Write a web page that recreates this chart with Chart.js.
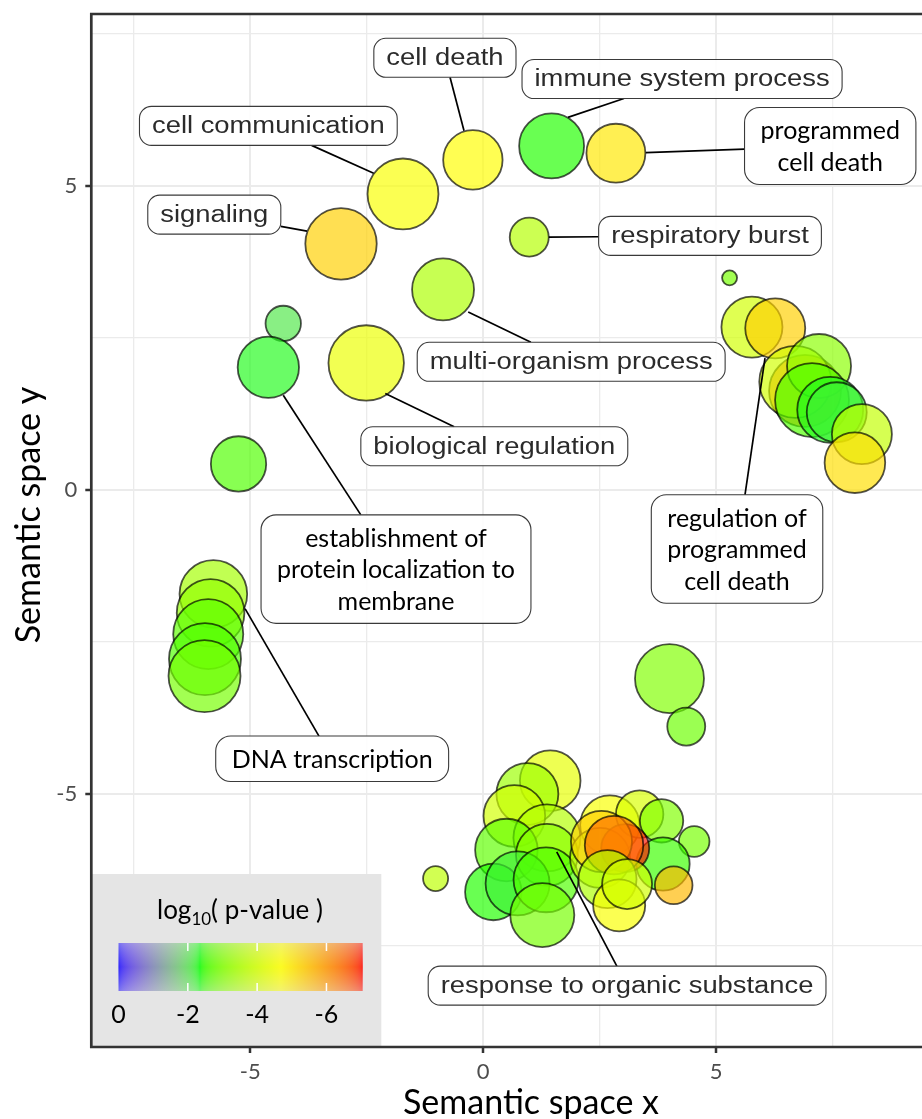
<!DOCTYPE html>
<html>
<head>
<meta charset="utf-8">
<script src="https://cdn.jsdelivr.net/npm/chart.js@4.4.1/dist/chart.umd.min.js"></script>
<style>
  html, body { margin: 0; padding: 0; background: #fff; }
  #wrap { width: 922px; height: 1119px; }
</style>
</head>
<body>
<div id="wrap"><canvas id="chart" width="922" height="1119"></canvas></div>
<script>
// REVIGO semantic space: one entry per GO term
const termX = [
  -0.22, -1.72, -3.05, -0.86, 0.99, 1.47, 2.85, 5.29,
  -4.29, -4.61, -2.51, -5.25,
  -5.79, -5.85, -5.90, -5.97, -5.98,
  5.77, 6.27, 6.91, 6.70, 7.21, 7.06, 7.45, 7.59, 8.13, 7.98,
  4.00, 4.36, -1.02,
  1.44, 0.95, 0.67, 1.37, 0.50, 1.37, 0.22, 0.74, 1.35, 1.27, 2.72, 3.36,
  3.83, 4.53, 2.51, 3.86, 3.05, 2.54, 2.81, 2.67, 2.92, 3.09, 4.09
];
const termY = [
  5.43, 4.87, 4.05, 3.30, 4.16, 5.66, 5.54, 3.49,
  2.74, 2.02, 2.09, 0.43,
  -1.71, -2.02, -2.37, -2.78, -3.06,
  2.68, 2.66, 1.63, 1.78, 2.04, 1.48, 1.32, 1.28, 0.92, 0.45,
  -3.10, -3.89, -6.39,
  -4.78, -5.00, -5.36, -5.72, -5.92, -6.00, -6.61, -6.47, -6.41, -6.99, -5.51, -5.33,
  -5.44, -5.78, -6.05, -6.15, -5.89, -5.78, -5.84, -6.40, -6.83, -6.48, -6.50
];
const termSize = [
  3.96, 4.73, 4.76, 4.13, 2.60, 4.33, 3.93, 1.00,
  2.36, 4.09, 5.03, 3.69,
  4.51, 4.51, 4.67, 4.80, 4.80,
  4.07, 4.00, 4.80, 4.80, 4.27, 4.93, 4.40, 4.00, 4.00, 4.04,
  4.60, 2.53, 1.67,
  4.04, 4.13, 4.11, 4.47, 4.17, 4.13, 3.77, 4.27, 4.33, 4.27, 3.96, 3.16,
  2.89, 2.04, 4.00, 3.56, 3.20, 4.07, 3.90, 3.87, 3.47, 3.33, 2.51
];
const termLogP = [
  -4.7, -4.6, -5.3, -3.5, -3.6, -2.4, -5.0, -2.9,
  -2.1, -2.3, -4.4, -2.6,
  -3.4, -3.2, -2.7, -2.6, -2.9,
  -4.0, -5.3, -6.3, -4.0, -3.1, -2.6, -2.3, -2.2, -3.8, -5.1,
  -3.0, -2.8, -3.7,
  -4.3, -3.3, -4.0, -3.6, -2.7, -3.1, -2.4, -2.2, -2.6, -2.9, -4.6, -4.1,
  -3.0, -2.9, -3.8, -2.5, -7.0, -5.3, -6.4, -3.5, -4.6, -4.0, -5.6
];

const xTicks = [-7.5, -5, -2.5, 0, 2.5, 5, 7.5];
const yTicks = [-7.5, -5, -2.5, 0, 2.5, 5, 7.5];

const labelLines = [
  ['cell death'],
  ['immune system process'],
  ['programmed', 'cell death'],
  ['cell communication'],
  ['signaling'],
  ['respiratory burst'],
  ['multi-organism process'],
  ['biological regulation'],
  ['establishment of', 'protein localization to', 'membrane'],
  ['regulation of', 'programmed', 'cell death'],
  ['DNA transcription'],
  ['response to organic substance']
];
// label box centre and the point its leader line goes to, in data units
const labelLayout = [
  { bx: -0.82, by: 7.11, px: -0.41, py: 5.91, lato: false },
  { bx: 4.27, by: 6.76, px: 1.82, py: 6.13, lato: false },
  { bx: 7.45, by: 5.66, px: 3.49, py: 5.55, lato: true },
  { bx: -4.61, by: 5.99, px: -2.35, py: 5.21, lato: false },
  { bx: -5.77, by: 4.53, px: -3.78, py: 4.26, lato: false },
  { bx: 4.87, by: 4.18, px: 1.41, py: 4.16, lato: false },
  { bx: 1.89, by: 2.11, px: -0.32, py: 2.93, lato: false },
  { bx: 0.24, by: 0.72, px: -2.10, py: 1.59, lato: false },
  { bx: -1.87, by: -1.30, px: -4.29, py: 1.56, lato: true },
  { bx: 5.45, by: -0.97, px: 6.05, py: 2.17, lato: true },
  { bx: -3.24, by: -4.42, px: -5.11, py: -1.95, lato: true },
  { bx: 3.09, by: -8.15, px: 1.58, py: -5.95, lato: false }
];

const legendTicks = [0, -2, -4, -6];
const paletteColours = ['#0000FF', '#00FF00', '#FFFF00', '#FF0000'];
const pLimits = [-7.04, 0];

// ---- colour scale, interpolated in Lab like ggplot ----
function hexToRgb(h) {
  return [1, 3, 5].map((i) => parseInt(h.slice(i, i + 2), 16));
}
function toLab(rgb) {
  const lin = rgb.map((c) => {
    c /= 255;
    return c <= 0.04045 ? c / 12.92 : Math.pow((c + 0.055) / 1.055, 2.4);
  });
  const X = (0.4124 * lin[0] + 0.3576 * lin[1] + 0.1805 * lin[2]) / 0.95047;
  const Y = 0.2126 * lin[0] + 0.7152 * lin[1] + 0.0722 * lin[2];
  const Z = (0.0193 * lin[0] + 0.1192 * lin[1] + 0.9505 * lin[2]) / 1.08883;
  const f = (t) => (t > 0.008856 ? Math.cbrt(t) : 7.787 * t + 16 / 116);
  return [116 * f(Y) - 16, 500 * (f(X) - f(Y)), 200 * (f(Y) - f(Z))];
}
function fromLab(lab) {
  const fy = (lab[0] + 16) / 116;
  const fx = fy + lab[1] / 500;
  const fz = fy - lab[2] / 200;
  const inv = (t) => (t * t * t > 0.008856 ? t * t * t : (t - 16 / 116) / 7.787);
  const X = inv(fx) * 0.95047, Y = inv(fy), Z = inv(fz) * 1.08883;
  const lin = [
    3.2406 * X - 1.5372 * Y - 0.4986 * Z,
    -0.9689 * X + 1.8758 * Y + 0.0415 * Z,
    0.0557 * X - 0.2040 * Y + 1.0570 * Z
  ];
  return lin.map((c) => {
    c = c <= 0.0031308 ? 12.92 * c : 1.055 * Math.pow(c, 1 / 2.4) - 0.055;
    return Math.round(Math.max(0, Math.min(1, c)) * 255);
  });
}
const paletteLab = paletteColours.map((c) => toLab(hexToRgb(c)));
function colourFor(v) {
  const t = Math.max(0, Math.min(1, (pLimits[1] - v) / (pLimits[1] - pLimits[0])));
  const seg = t * (paletteLab.length - 1);
  const i = Math.min(paletteLab.length - 2, Math.floor(seg));
  const f = seg - i;
  const a = paletteLab[i], b = paletteLab[i + 1];
  return fromLab([0, 1, 2].map((k) => a[k] + (b[k] - a[k]) * f));
}
const rgba = (c, a) => `rgba(${c[0]},${c[1]},${c[2]},${a})`;

const sizeToRadius = (s) => s * 7.5;

// ---- drawing helpers ----
function roundRect(ctx, x, y, w, h, r) {
  ctx.beginPath();
  ctx.moveTo(x + r, y);
  ctx.arcTo(x + w, y, x + w, y + h, r);
  ctx.arcTo(x + w, y + h, x, y + h, r);
  ctx.arcTo(x, y + h, x, y, r);
  ctx.arcTo(x, y, x + w, y, r);
  ctx.closePath();
}

function drawLabels(chart) {
  const ctx = chart.ctx;
  const xs = chart.scales.x, ys = chart.scales.y;
  labelLines.forEach((lines, i) => {
    const a = labelLayout[i];
    const cx = xs.getPixelForValue(a.bx), cy = ys.getPixelForValue(a.by);
    const px = xs.getPixelForValue(a.px), py = ys.getPixelForValue(a.py);
    ctx.save();
    ctx.font = a.lato ? '25px Lato' : '23px "Liberation Sans"';
    const stretch = a.lato ? 1 : 1.19;
    const tw = Math.max(...lines.map((l) => ctx.measureText(l).width)) * stretch;
    const lineH = a.lato ? 31.5 : 39;
    const w = tw + (a.lato ? 32 : 25);
    const h = a.lato ? lines.length * 31.5 + 14 : 39;

    // leader line from the point to the box edge
    const dx = px - cx, dy = py - cy;
    const tX = dx !== 0 ? Math.abs((w / 2) / dx) : Infinity;
    const tY = dy !== 0 ? Math.abs((h / 2) / dy) : Infinity;
    const t = Math.min(tX, tY);
    if (t < 1) {
      ctx.beginPath();
      ctx.moveTo(px, py);
      ctx.lineTo(cx + dx * t, cy + dy * t);
      ctx.strokeStyle = '#000';
      ctx.lineWidth = 1.7;
      ctx.stroke();
    }

    roundRect(ctx, cx - w / 2, cy - h / 2, w, h, a.lato ? 15 : 12);
    ctx.fillStyle = 'rgba(255,255,255,0.88)';
    ctx.fill();
    ctx.strokeStyle = '#3a3a3a';
    ctx.lineWidth = 1.1;
    ctx.stroke();

    ctx.fillStyle = a.lato ? '#000' : '#2b2b2b';
    ctx.textAlign = 'center';
    ctx.textBaseline = 'middle';
    lines.forEach((l, k) => {
      const ty = cy + (k - (lines.length - 1) / 2) * lineH + 1;
      ctx.save();
      ctx.translate(cx, ty);
      ctx.scale(stretch, 1);
      ctx.fillText(l, 0, 0);
      ctx.restore();
    });
    ctx.restore();
  });
}

function drawLegend(chart) {
  const ctx = chart.ctx;
  const area = chart.chartArea;
  ctx.save();
  ctx.fillStyle = '#e5e5e5';
  ctx.fillRect(area.left, 874, 290, area.bottom - 874);

  // title: log10( p-value )
  ctx.fillStyle = '#000';
  ctx.textBaseline = 'alphabetic';
  ctx.textAlign = 'left';
  const big = '26px Lato', small = '17px Lato';
  ctx.font = big;
  const w1 = ctx.measureText('log').width;
  const w3 = ctx.measureText('( p-value )').width;
  ctx.font = small;
  const w2 = ctx.measureText('10').width;
  let x = 240 - (w1 + w2 + w3) / 2;
  ctx.font = big;
  ctx.fillText('log', x, 919);
  x += w1;
  ctx.font = small;
  ctx.fillText('10', x, 925);
  x += w2;
  ctx.font = big;
  ctx.fillText('( p-value )', x, 919);

  // colour bar
  const x0 = 118.5, x1 = 362.5, y0 = 943, y1 = 991;
  const bw = x1 - x0;
  for (let i = 0; i < bw; i += 1) {
    const v = pLimits[0] * ((i + 0.5) / bw);
    const c = colourFor(v);
    const g = ctx.createLinearGradient(0, y0, 0, y1);
    g.addColorStop(0, rgba(c, 0.5));
    g.addColorStop(0.5, rgba(c, 1));
    g.addColorStop(1, rgba(c, 0.5));
    ctx.fillStyle = g;
    ctx.fillRect(x0 + i, y0, 1.2, y1 - y0);
  }
  ctx.strokeStyle = '#fff';
  ctx.lineWidth = 1.5;
  ctx.font = '25px Lato';
  ctx.textAlign = 'center';
  ctx.textBaseline = 'middle';
  legendTicks.forEach((t) => {
    const tx = x0 + (t / pLimits[0]) * bw;
    if (t !== 0) {
      ctx.beginPath();
      ctx.moveTo(tx, y0); ctx.lineTo(tx, y0 + 8);
      ctx.moveTo(tx, y1 - 8); ctx.lineTo(tx, y1);
      ctx.stroke();
    }
    ctx.fillStyle = '#000';
    ctx.fillText(String(t), tx, 1015);
  });
  ctx.restore();
}

const revigoPlugin = {
  id: 'revigo',
  afterDatasetsDraw(chart) {
    drawLabels(chart);
    drawLegend(chart);
    const ctx = chart.ctx;
    const a = chart.chartArea;
    ctx.save();
    ctx.strokeStyle = '#333';
    ctx.lineWidth = 2.7;
    ctx.beginPath();
    ctx.moveTo(a.right + 5, a.top);
    ctx.lineTo(a.left, a.top);
    ctx.lineTo(a.left, a.bottom);
    ctx.lineTo(a.right + 5, a.bottom);
    ctx.stroke();
    ctx.restore();
  },
  afterDraw(chart) {
    const ctx = chart.ctx;
    ctx.save();
    ctx.fillStyle = '#000';
    ctx.font = '34px Lato';
    ctx.textAlign = 'center';
    ctx.textBaseline = 'alphabetic';
    ctx.fillText('Semantic space x', 531, 1114);
    ctx.translate(40, 515);
    ctx.rotate(-Math.PI / 2);
    ctx.fillText('Semantic space y', 0, 0);
    ctx.restore();
  }
};

const points = termX.map((x, i) => ({ x, y: termY[i], r: sizeToRadius(termSize[i]) }));

Chart.defaults.font.family = 'Lato';

const isMajor = (v) => v % 5 === 0;

// drop the extra room Chart.js keeps for edge tick labels
function noEdgePadding(scale) {
  scale.paddingLeft = 0;
  scale.paddingRight = 0;
  scale.paddingTop = 0;
  scale.paddingBottom = 0;
}

new Chart(document.getElementById('chart'), {
  type: 'bubble',
  data: {
    datasets: [{
      data: points,
      backgroundColor: termLogP.map((p) => rgba(colourFor(p), 0.68)),
      borderColor: 'rgba(0,0,0,0.68)',
      borderWidth: 1.8
    }]
  },
  options: {
    responsive: false,
    animation: false,
    events: [],
    layout: { autoPadding: false, padding: { top: 14, right: 0, left: 0, bottom: 0 } },
    plugins: { legend: { display: false }, tooltip: { enabled: false } },
    scales: {
      x: {
        type: 'linear',
        min: -8.41,
        max: 9.42,
        afterBuildTicks: (scale) => { scale.ticks = xTicks.map((v) => ({ value: v })); },
        afterFit: (scale) => { scale.height = 72; noEdgePadding(scale); },
        border: { display: false },
        grid: {
          color: '#ebebeb',
          lineWidth: (c) => (c.tick && isMajor(c.tick.value) ? 2 : 1.3),
          tickLength: 6,
          tickWidth: 2.5,
          tickColor: (c) => (c.tick && isMajor(c.tick.value) ? '#333' : 'rgba(0,0,0,0)')
        },
        ticks: {
          autoSkip: false,
          maxRotation: 0,
          padding: 6,
          color: '#4d4d4d',
          font: { size: 22, family: 'Lato' },
          callback: (v) => (isMajor(v) ? String(v) : '')
        }
      },
      y: {
        type: 'linear',
        min: -9.16,
        max: 7.83,
        afterBuildTicks: (scale) => { scale.ticks = yTicks.map((v) => ({ value: v })); },
        afterFit: (scale) => { scale.width = 91.3; noEdgePadding(scale); },
        border: { display: false },
        grid: {
          color: '#ebebeb',
          lineWidth: (c) => (c.tick && isMajor(c.tick.value) ? 2 : 1.3),
          tickLength: 6,
          tickWidth: 2.5,
          tickColor: (c) => (c.tick && isMajor(c.tick.value) ? '#333' : 'rgba(0,0,0,0)')
        },
        ticks: {
          autoSkip: false,
          padding: 8,
          color: '#4d4d4d',
          font: { size: 22, family: 'Lato' },
          callback: (v) => (isMajor(v) ? String(v) : '')
        }
      }
    }
  },
  plugins: [revigoPlugin]
});
</script>
</body>
</html>
